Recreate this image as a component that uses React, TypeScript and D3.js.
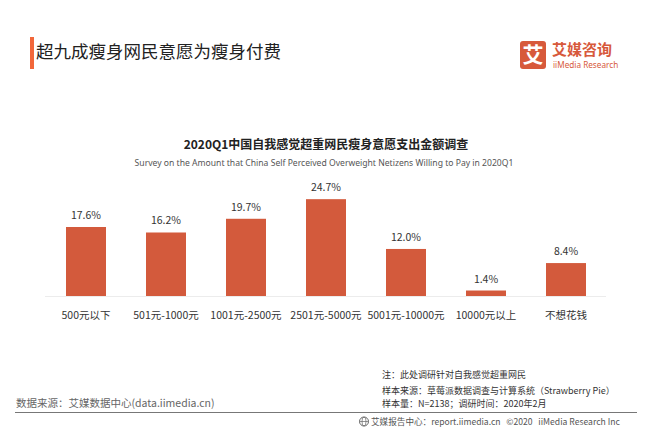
import React from "react";
import * as d3 from "d3";

const categories = ["500元以下", "501元-1000元", "1001元-2500元", "2501元-5000元", "5001元-10000元", "10000元以上", "不想花钱"];
const values = [17.6, 16.2, 19.7, 24.7, 12.0, 1.4, 8.4];
const valueLabels = ["17.6%", "16.2%", "19.7%", "24.7%", "12.0%", "1.4%", "8.4%"];

const W = 653;
const H = 428;
const CJK = "'Noto Sans CJK SC', 'Noto Sans', sans-serif";

export default function App() {
  const x = d3.scaleBand<string>().domain(categories).range([46, 606]).paddingInner(0.5).paddingOuter(0.25);
  const y = d3.scaleLinear().domain([0, 25]).range([296, 198]);
  return (
    <svg width={W} height={H} style={{ position: "absolute", left: 0, top: 0, background: "#fff" }} fontFamily={CJK}>
      <rect x={0} y={0} width={W} height={H} fill="#fff" />
      {/* Title */}
      <rect x={30} y={37} width={4} height={32} fill="#F2673A" />
      <text x={36} y={58} fontSize={17.5} fill="#222">超九成瘦身网民意愿为瘦身付费</text>
      {/* Logo */}
      <rect x={520} y={41} width={26} height={28} rx={3} fill="#D7593B" />
      <text x={533} y={62} fontSize={21} fill="#fff" textAnchor="middle" fontWeight={700}>艾</text>
      <text x={552} y={54.5} fontSize={15} fill="#D7593B" fontWeight={700}>艾媒咨询</text>
      <text x={553} y={67.5} fontSize={8.2} fill="#D7593B" fontFamily="'Noto Sans', sans-serif">iiMedia Research</text>
      {/* Chart title */}
      <text x={326} y={149} fontSize={12} fontWeight={700} fill="#222" textAnchor="middle">2020Q1中国自我感觉超重网民瘦身意愿支出金额调查</text>
      <text x={324} y={166} fontSize={8.6} fill="#555" textAnchor="middle" fontFamily="'Noto Sans', sans-serif">Survey on the Amount that China Self Perceived Overweight Netizens Willing to Pay in 2020Q1</text>
      {/* Bars */}
      {categories.map((c, i) => (
        <g key={c}>
          <rect x={x(c)} y={y(values[i])} width={x.bandwidth()} height={y(0) - y(values[i])} fill="#D35A3C" />
          <text x={(x(c) as number) + x.bandwidth() / 2} y={y(values[i]) - 8} fontSize={10.5} fill="#333" textAnchor="middle">{valueLabels[i]}</text>
          <text x={(x(c) as number) + x.bandwidth() / 2} y={319} fontSize={10.5} fill="#333" textAnchor="middle">{c}</text>
        </g>
      ))}
      <line x1={45} x2={606} y1={296.5} y2={296.5} stroke="#ececec" strokeWidth={1} />
      {/* Notes */}
      <text x={382} y={378} fontSize={9} fill="#333">注：此处调研针对自我感觉超重网民</text>
      <text x={382} y={394} fontSize={9} fill="#333">样本来源：草莓派数据调查与计算系统（Strawberry Pie）</text>
      <text x={382} y={407} fontSize={9} fill="#333">样本量：N=2138；调研时间：2020年2月</text>
      <text x={16} y={407} fontSize={10.5} fill="#666">数据来源：艾媒数据中心(data.iimedia.cn)</text>
      <line x1={15} x2={637} y1={412.5} y2={412.5} stroke="#777" strokeWidth={1} />
      <g transform="translate(364,421.5)">
        <circle r={4.5} fill="none" stroke="#666" strokeWidth={1} />
        <ellipse rx={2} ry={4.5} fill="none" stroke="#666" strokeWidth={0.7} />
        <line x1={-4.5} x2={4.5} y1={0} y2={0} stroke="#666" strokeWidth={0.7} />
      </g>
      <text x={371} y={424.5} fontSize={8.6} fill="#555" style={{ whiteSpace: "pre" }}>艾媒报告中心：report.iimedia.cn   ©2020   iiMedia Research Inc</text>
    </svg>
  );
}
